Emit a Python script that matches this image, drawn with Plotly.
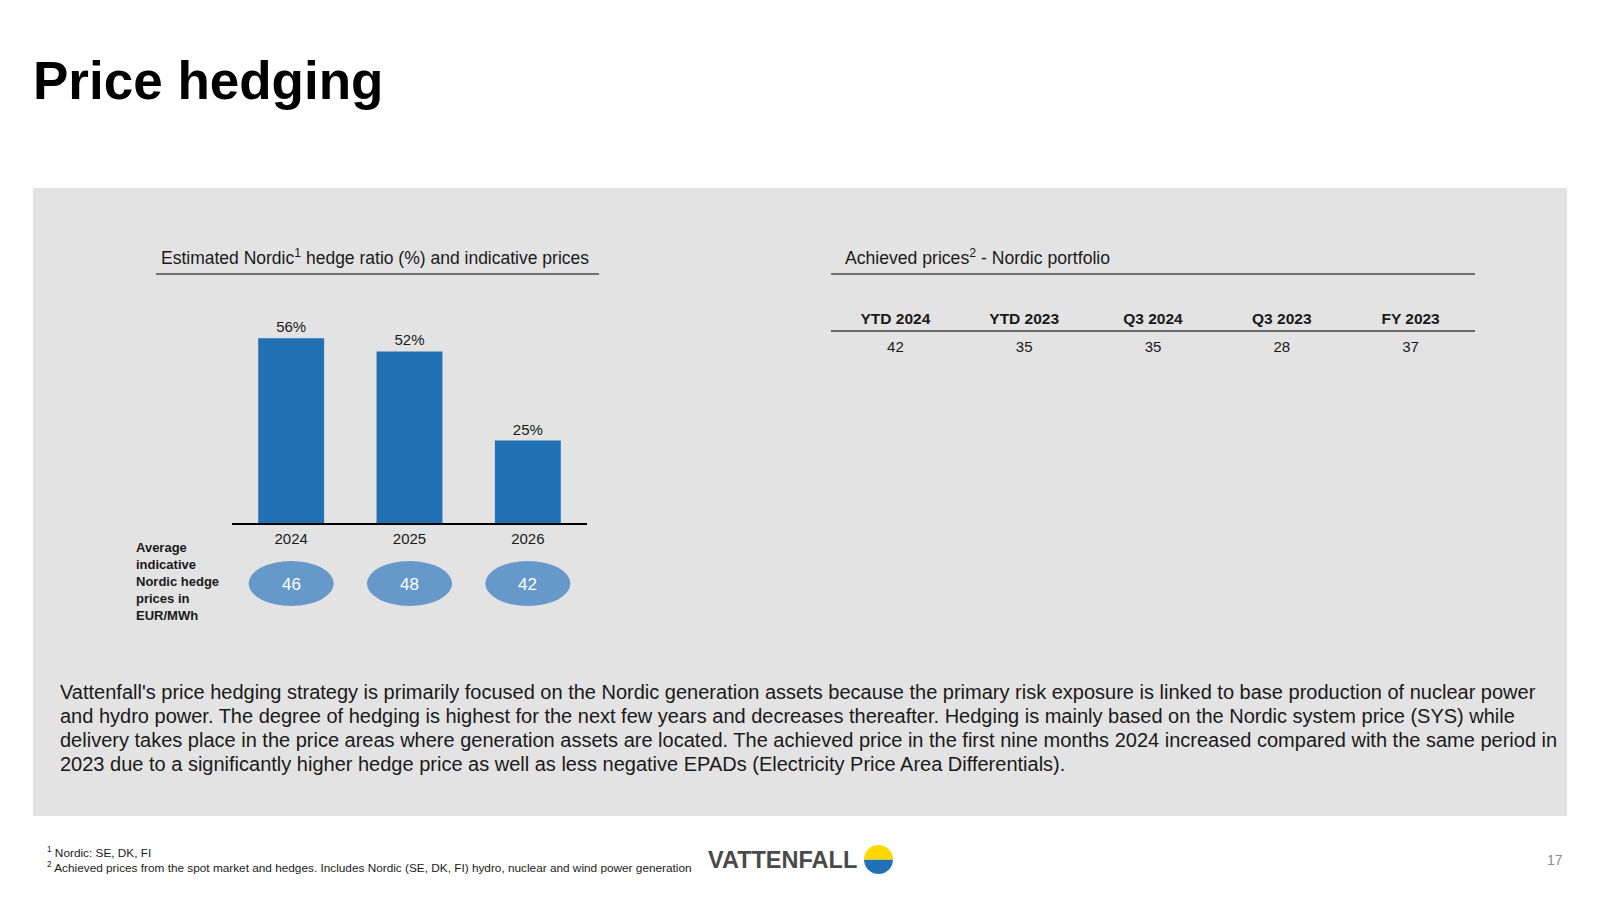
import plotly.graph_objects as go

W, H = 1600, 900
FONT = "Liberation Sans, Arial, sans-serif"
C_BAR = "#2171B5"
C_OVAL = "#6699C9"
C_PANEL = "#E3E3E3"
C_TEXT = "#1A1A1A"

# chart data
years = ["2024", "2025", "2026"]
hedge_ratio = [56, 52, 25]
hedge_price = [46, 48, 42]

periods = ["YTD 2024", "YTD 2023", "Q3 2024", "Q3 2023", "FY 2023"]
achieved = [42, 35, 35, 28, 37]

body_lines = [
    "Vattenfall's price hedging strategy is primarily focused on the Nordic generation assets because the primary risk exposure is linked to base production of nuclear power",
    "and hydro power. The degree of hedging is highest for the next few years and decreases thereafter. Hedging is mainly based on the Nordic system price (SYS) while",
    "delivery takes place in the price areas where generation assets are located. The achieved price in the first nine months 2024 increased compared with the same period in",
    "2023 due to a significantly higher hedge price as well as less negative EPADs (Electricity Price Area Differentials).",
]
footnotes = [
    "<sup>1</sup> Nordic: SE, DK, FI",
    "<sup>2</sup> Achieved prices from the spot market and hedges. Includes Nordic (SE, DK, FI) hydro, nuclear and wind power generation",
]


def px(x):
    return x / W


def py(y):
    return 1 - y / H


def note(text, x, y, size, color=C_TEXT, xanchor="left", bold=False, **kw):
    if bold:
        text = f"<b>{text}</b>"
    return dict(text=text, x=px(x), y=py(y), xref="paper", yref="paper",
                xanchor=xanchor, yanchor="middle", showarrow=False, align="left",
                font=dict(size=size, color=color, family=FONT), **kw)


fig = go.Figure()

# hedge ratio bars
fig.add_trace(go.Bar(
    x=years, y=hedge_ratio,
    marker_color=C_BAR, marker_line_width=0,
    text=[f"{v}%" for v in hedge_ratio], textposition="outside",
    textfont=dict(size=15, color=C_TEXT, family=FONT),
    cliponaxis=False, hoverinfo="skip", width=0.557,
))

# achieved prices table
fig.add_trace(go.Scatter(
    x=periods, y=[0.73] * len(periods), mode="text",
    text=[f"<b>{p}</b>" for p in periods],
    textfont=dict(size=15.5, color=C_TEXT, family=FONT),
    xaxis="x2", yaxis="y2", hoverinfo="skip",
))
fig.add_trace(go.Scatter(
    x=periods, y=[0.22] * len(periods), mode="text",
    text=[str(v) for v in achieved],
    textfont=dict(size=15, color=C_TEXT, family=FONT),
    xaxis="x2", yaxis="y2", hoverinfo="skip",
))

# logo disc
fig.add_trace(go.Pie(
    values=[1, 1], marker=dict(colors=["#2071B5", "#FFD800"], line=dict(width=0)),
    sort=False, direction="clockwise", rotation=90,
    textinfo="none", hoverinfo="skip", showlegend=False,
    domain=dict(x=[px(864), px(893)], y=[py(874), py(845)]),
))

shapes = [
    dict(type="rect", xref="paper", yref="paper", x0=px(33), x1=px(1567),
         y0=py(816), y1=py(188), fillcolor=C_PANEL, line_width=0, layer="below"),
    dict(type="line", xref="paper", yref="paper", x0=px(156), x1=px(599),
         y0=py(274), y1=py(274), line=dict(color="#000000", width=1)),
    dict(type="line", xref="paper", yref="paper", x0=px(831), x1=px(1475),
         y0=py(274), y1=py(274), line=dict(color="#000000", width=1)),
    dict(type="line", xref="paper", yref="paper", x0=px(831), x1=px(1475),
         y0=py(331), y1=py(331), line=dict(color="#404040", width=1.5)),
]
annotations = []
for i, price in enumerate(hedge_price):
    shapes.append(dict(type="circle", xref="x", yref="paper",
                       x0=i - 0.36, x1=i + 0.36, y0=py(606), y1=py(561),
                       fillcolor=C_OVAL, line_width=0))
    annotations.append(dict(text=str(price), x=i, xref="x", y=py(584), yref="paper",
                            showarrow=False, yanchor="middle", xanchor="center",
                            font=dict(size=17, color="#FFFFFF", family=FONT)))

annotations += [
    note("Price hedging", 31, 80, 53, color="#000000", bold=True),
    note("Estimated Nordic<sup>1</sup> hedge ratio (%) and indicative prices", 159, 257, 17.5),
    note("Achieved prices<sup>2</sup> - Nordic portfolio", 843, 257, 17.6),
    note("Average<br>indicative<br>Nordic hedge<br>prices in<br>EUR/MWh", 134, 581, 13, bold=True),
    note("VATTENFALL", 706, 860, 23.5, color="#4A4A4A", bold=True),
    note("17", 1555, 860, 14, color="#8C8C8C", xanchor="center"),
]
for k, line in enumerate(body_lines):
    annotations.append(note(line, 58, 692 + 24 * k, 20))
for k, line in enumerate(footnotes):
    annotations.append(note(line, 45, 852 + 15 * k, 11.8))

fig.update_layout(
    width=W, height=H,
    margin=dict(l=0, r=0, t=0, b=0),
    paper_bgcolor="#FFFFFF", plot_bgcolor="rgba(0,0,0,0)",
    showlegend=False,
    font=dict(family=FONT, color=C_TEXT),
    xaxis=dict(domain=[px(232), px(587)], type="category", range=[-0.5, 2.5],
               showline=True, linecolor="#000000", linewidth=1.5,
               ticks="", showgrid=False, zeroline=False, fixedrange=True,
               ticklabelstandoff=1,
               tickfont=dict(size=15, color=C_TEXT, family=FONT)),
    yaxis=dict(domain=[py(523), py(325)], range=[0, 60], visible=False,
               fixedrange=True),
    xaxis2=dict(domain=[px(831), px(1475)], type="category", visible=False,
                range=[-0.5, 4.5], anchor="y2", fixedrange=True),
    yaxis2=dict(domain=[py(360), py(305)], range=[0, 1], visible=False,
                anchor="x2", fixedrange=True),
    shapes=shapes,
    annotations=annotations,
)

fig.write_html("out.html", config={"displayModeBar": False},
               post_script="document.body.style.margin='0';")
